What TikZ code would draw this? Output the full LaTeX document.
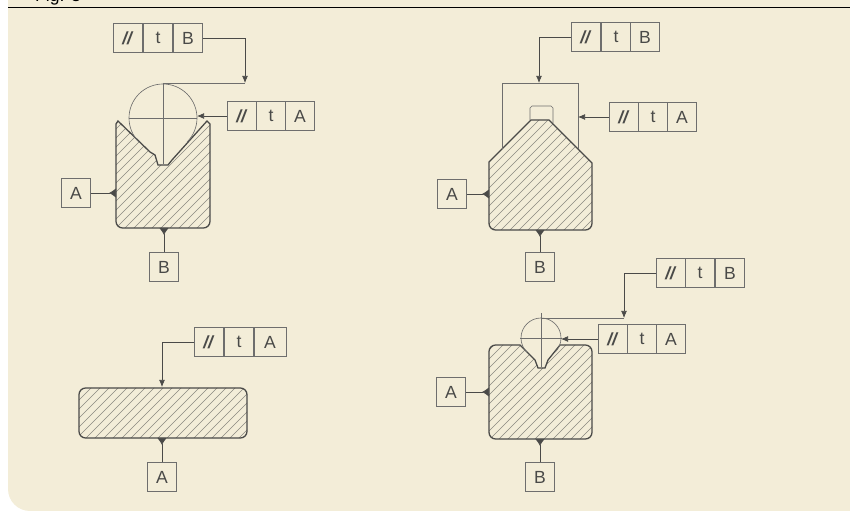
\documentclass[tikz,border=0pt]{standalone}
\usepackage{fontspec}
\setmainfont{Liberation Sans}
\usetikzlibrary{arrows.meta}
\definecolor{paper}{HTML}{F3EDD8}
\definecolor{ink}{HTML}{4A4A48}
\definecolor{hatchink}{HTML}{8A8880}
\newcommand{\vblock}{(116,387) -- (118,390) -- (150,359) -- (155,356) -- (158,346) -- (168,346) -- (172,351) -- (207,390) -- (210,387) [rounded corners=.2cm] -- (210,283) -- (116,283) [sharp corners] -- cycle}
\newcommand{\roofblock}{(489,349) -- (531,391) -- (549,391) -- (592,348) [rounded corners=.2cm] -- (592,281) -- (489,281) [sharp corners] -- cycle}
\newcommand{\flatblock}{[rounded corners=.2cm] (79,123) -- (247,123) -- (247,73) -- (79,73) -- cycle}
\newcommand{\notchblock}{(520,166) -- (535,151) -- (538,143) -- (545,143) -- (548,151) -- (560,166) [rounded corners=.2cm] -- (592,166) -- (592,72) -- (489,72) -- (489,166) [sharp corners] -- cycle}
\newcommand{\hatchlines}{\foreach \c in {-850,-841,...,511} \draw[hatchline] (0,\c) -- (850,850+\c);}
\begin{document}
\begin{tikzpicture}[y=.03cm,x=.03cm,
	cell/.style={draw=ink!80,line width=.55pt,inner sep=0pt,outer sep=0pt,minimum width=.885cm,minimum height=.87cm,text=ink,font=\fontsize{15}{18}\selectfont},
	part/.style={draw=ink,line width=1.1pt},
	hatchline/.style={draw=hatchink,line width=.55pt},
	thinline/.style={draw=ink!80,line width=.55pt},
	leader/.style={draw=ink,line width=.6pt,-{Latex[length=6pt,width=5pt]}},
	datum/.style={draw=ink,line width=.6pt,-{Latex[reversed,length=6pt,width=8pt]}}]
			\useasboundingbox (0,0) rectangle (850,511);
			\fill[paper] (850,511) -- (8,511) [rounded corners=.66cm] -- (8,0) [sharp corners] -- (850,0) -- cycle;
			\node[anchor=base west,inner sep=0pt,text=black,font=\fontsize{15}{18}\selectfont] (figlabel) at (35,509) {Fig. 3};
			\draw[black,line width=.75pt] (8,504) -- (850,504);

			\begin{scope}
				\clip \vblock;
				\hatchlines
			\end{scope}
			\begin{scope}
				\clip \roofblock;
				\hatchlines
			\end{scope}
			\begin{scope}
				\clip \flatblock;
				\hatchlines
			\end{scope}
			\begin{scope}
				\clip \notchblock;
				\hatchlines
			\end{scope}
			\draw[part] \vblock;
			\draw[part] \roofblock;
			\draw[part] \flatblock;
			\draw[part] \notchblock;

			\draw[thinline] (163,393) ++(225:34) arc [start angle=225,end angle=-45,radius=34];
			\draw[thinline] (163,428) -- (163,347);
			\draw[thinline] (129,393) -- (197,393);
			\draw[thinline] (541,173) ++(225:20) arc [start angle=225,end angle=-45,radius=20];
			\draw[thinline] (541,198) -- (541,144);
			\draw[thinline] (520,173) -- (562,173);
			\draw[thinline] (502,362) -- (502,428) -- (578,428) -- (578,362);
			\draw[thinline] (530,391) -- (530,403) -- (532,405) -- (551,405) -- (553,403) -- (553,388);

			\node[cell] (tla) at (128,473) {\textbf{\textit{//}}};
			\node[cell] (tlb) at (158,473) {t};
			\node[cell] (tlc) at (188,473) {B};
			\node[cell] (tma) at (242,395) {\textbf{\textit{//}}};
			\node[cell] (tmb) at (271,395) {t};
			\node[cell] (tmc) at (300,395) {A};
			\node[cell] (tra) at (586,474) {\textbf{\textit{//}}};
			\node[cell] (trb) at (616,474) {t};
			\node[cell] (trc) at (645,474) {B};
			\node[cell] (rma) at (624,394) {\textbf{\textit{//}}};
			\node[cell] (rmb) at (653,394) {t};
			\node[cell] (rmc) at (682,394) {A};
			\node[cell] (bla) at (209,169) {\textbf{\textit{//}}};
			\node[cell] (blb) at (239,169) {t};
			\node[cell,minimum width=.96cm] (blc) at (270,169) {A};
			\node[cell] (bta) at (671,238) {\textbf{\textit{//}}};
			\node[cell] (btb) at (700,238) {t};
			\node[cell] (btc) at (730,238) {B};
			\node[cell] (bma) at (613,172) {\textbf{\textit{//}}};
			\node[cell] (bmb) at (642,172) {t};
			\node[cell] (bmc) at (671,172) {A};

			\node[cell] (tlA) at (76,318) {A};
			\node[cell] (tlB) at (164,244) {B};
			\node[cell] (trA) at (452,317) {A};
			\node[cell] (trB) at (540,244) {B};
			\node[cell] (blA) at (162,34) {A};
			\node[cell] (brA) at (451,119) {A};
			\node[cell] (brB) at (540,34) {B};

			\coordinate (tltop) at (245,428);
			\coordinate (tmtip) at (197,395);
			\coordinate (trtop) at (539,428);
			\coordinate (rmtip) at (578,394);
			\coordinate (bltop) at (162,124);
			\coordinate (bttop) at (624,193);
			\coordinate (bmtip) at (561,172);
			\coordinate (tlAtip) at (116,318);
			\coordinate (tlBtip) at (164,283);
			\coordinate (trAtip) at (489,317);
			\coordinate (trBtip) at (540,281);
			\coordinate (blAtip) at (162,73);
			\coordinate (brAtip) at (489,119);
			\coordinate (brBtip) at (540,72);

			\draw[leader] (tlc.east) -| (tltop);
			\draw[thinline] (tltop) -- (163,428);
			\draw[leader] (tma.west) -- (tmtip);
			\draw[leader] (tra.west) -| (trtop);
			\draw[leader] (rma.west) -- (rmtip);
			\draw[leader] (bla.west) -| (bltop);
			\draw[leader] (bta.west) -| (bttop);
			\draw[thinline] (bttop) -- (541,193);
			\draw[leader] (bma.west) -- (bmtip);

			\draw[datum] (tlA.east) -- (tlAtip);
			\draw[datum] (tlB.north) -- (tlBtip);
			\draw[datum] (trA.east) -- (trAtip);
			\draw[datum] (trB.north) -- (trBtip);
			\draw[datum] (blA.north) -- (blAtip);
			\draw[datum] (brA.east) -- (brAtip);
			\draw[datum] (brB.north) -- (brBtip);
		\end{tikzpicture}
\end{document}
